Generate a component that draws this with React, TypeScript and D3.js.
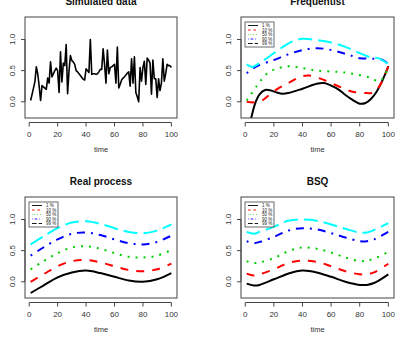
import React from 'react';
import * as d3 from 'd3';

// simulated observations, t = 1..100
const simValues = [
  0.02, 0.12, 0.22, 0.32, 0.56, 0.45, 0.25, 0.02, 0.26, 0.24,
  0.22, 0.20, 0.38, 0.30, 0.64, 0.40, 0.45, 0.50, 0.54, 0.50,
  0.15, 0.80, 0.32, 0.62, 0.58, 0.92, 0.13, 0.50, 0.74, 0.66,
  0.64, 0.60, 0.50, 0.48, 0.45, 0.42, 0.39, 0.36, 0.35, 0.53,
  0.50, 0.47, 1.00, 0.44, 0.45, 0.45, 0.44, 0.45, 0.48, 0.52,
  0.52, 0.85, 0.60, 0.30, 0.83, 0.45, 0.55, 0.56, 0.58, 0.60,
  0.30, 0.88, 0.22, 0.28, 0.35, 0.38, 0.40, 0.43, 0.46, 0.48,
  0.25, 0.69, 0.30, 0.72, 0.15, 0.08, 0.00, 0.55, 0.33, 0.55,
  0.65, 0.28, 0.70, 0.67, 0.62, 0.12, 0.67, 0.37, 0.37, 0.07,
  0.37, 0.18, 0.30, 0.69, 0.33, 0.45, 0.60, 0.58, 0.58, 0.55,
];

const quantileLabels = ['1 %', '10 %', '50 %', '90 %', '99 %'];
const quantileColors = ['#000000', '#FF0000', '#00CD00', '#0000FF', '#00FFFF'];
const legendColors = ['#000000', '#FF0000', '#00CD00', '#0000FF', '#000000'];
const quantileDash = ['none', '8,8', '2,6', '2,6,8,6', '14,6'];

// Frequentist estimates
const freqTimes = [
  [1, 4, 7, 10, 14, 18, 22, 26, 30, 40, 50, 55, 60, 65, 70, 75, 80, 84, 88, 92, 96, 100],
  [1, 10, 20, 30, 40, 45, 55, 65, 75, 85, 90, 95, 100],
  [1, 8, 15, 22, 30, 38, 50, 65, 75, 88, 93, 97, 100],
  [1, 8, 20, 30, 40, 50, 58, 70, 80, 90, 96, 100],
  [1, 5, 10, 17, 25, 33, 40, 50, 60, 70, 80, 88, 93, 97, 100],
];
const freqValues = [
  [-0.6, -0.28, -0.02, 0.12, 0.19, 0.18, 0.15, 0.13, 0.14, 0.21, 0.29, 0.30, 0.26, 0.20, 0.11, 0.03, -0.03, -0.02, 0.05, 0.17, 0.35, 0.57],
  [0.0, 0.0, 0.17, 0.30, 0.41, 0.42, 0.35, 0.25, 0.16, 0.14, 0.15, 0.30, 0.57],
  [0.02, 0.25, 0.45, 0.53, 0.57, 0.55, 0.50, 0.48, 0.45, 0.38, 0.33, 0.40, 0.57],
  [0.46, 0.57, 0.67, 0.76, 0.83, 0.86, 0.84, 0.77, 0.70, 0.69, 0.67, 0.60],
  [0.60, 0.56, 0.62, 0.73, 0.86, 0.97, 1.01, 0.99, 0.95, 0.88, 0.78, 0.71, 0.70, 0.65, 0.60],
];

// true quantiles
const realTimes = [1, 10, 20, 30, 40, 50, 60, 70, 80, 90, 100];
const realValues = [
  [-0.18, -0.06, 0.07, 0.15, 0.18, 0.14, 0.08, 0.02, 0.00, 0.04, 0.14],
  [0.00, 0.12, 0.25, 0.33, 0.35, 0.31, 0.25, 0.19, 0.17, 0.20, 0.29],
  [0.20, 0.33, 0.46, 0.55, 0.57, 0.53, 0.46, 0.40, 0.39, 0.42, 0.51],
  [0.42, 0.55, 0.68, 0.77, 0.79, 0.75, 0.68, 0.62, 0.60, 0.64, 0.74],
  [0.60, 0.73, 0.86, 0.95, 0.97, 0.93, 0.86, 0.80, 0.78, 0.82, 0.92],
];

// BSQ estimates
const bsqTimes = [1, 6, 10, 20, 30, 40, 50, 60, 70, 80, 85, 90, 100];
const bsqValues = [
  [-0.03, -0.06, -0.05, 0.04, 0.13, 0.18, 0.15, 0.08, 0.00, -0.05, -0.05, -0.02, 0.12],
  [0.13, 0.10, 0.12, 0.20, 0.30, 0.34, 0.32, 0.25, 0.17, 0.12, 0.12, 0.15, 0.29],
  [0.33, 0.30, 0.31, 0.38, 0.49, 0.55, 0.53, 0.47, 0.39, 0.33, 0.34, 0.37, 0.48],
  [0.65, 0.62, 0.64, 0.72, 0.82, 0.86, 0.84, 0.78, 0.71, 0.65, 0.65, 0.68, 0.80],
  [0.80, 0.77, 0.80, 0.88, 0.98, 1.00, 0.98, 0.92, 0.85, 0.79, 0.79, 0.83, 0.94],
];

const xTicks = [0, 20, 40, 60, 80, 100];
const yTicks = [0, 0.5, 1.0];

type Series = { t: number[]; v: number[] };

const FONT = '"Liberation Sans", Arial, Helvetica, sans-serif';

const Panel = ({ id, title, x0, x1, y0, y1, series, quantiles }:
  { id: string; title: string; x0: number; x1: number; y0: number; y1: number; series: Series[]; quantiles: boolean }) => {
  const x = d3.scaleLinear().domain([-2.96, 103.96]).range([x0, x1]);
  const y = d3.scaleLinear().domain([-0.26, 1.36]).range([y1, y0]);
  const curve = quantiles ? d3.curveCatmullRom : d3.curveLinear;
  const line = d3.line<[number, number]>().x(d => x(d[0])).y(d => y(d[1])).curve(curve);
  const cx = (x0 + x1) / 2;
  const axY = y1 + 4.5;

  return (
    <g>
      <defs>
        <clipPath id={`clip-${id}`}>
          <rect x={x0} y={y0} width={x1 - x0} height={y1 - y0} />
        </clipPath>
      </defs>
      <text x={cx} y={y0 - 12} textAnchor="middle" fontSize={10} fontWeight="bold" fill="#111">{title}</text>
      <g clipPath={`url(#clip-${id})`}>
        {series.map((s, i) => (
          <path key={i}
            d={line(s.t.map((t, j) => [t, s.v[j]] as [number, number])) || ''}
            fill="none"
            stroke={quantiles ? quantileColors[i] : '#000'}
            strokeWidth={quantiles ? 2 : 1.6}
            strokeDasharray={quantiles ? quantileDash[i] : 'none'}
            strokeLinejoin="round" />
        ))}
      </g>
      <rect x={x0} y={y0} width={x1 - x0} height={y1 - y0} fill="none" stroke="#444" strokeWidth={1} />
      {/* x axis */}
      <line x1={x(xTicks[0])} x2={x(xTicks[xTicks.length - 1])} y1={axY} y2={axY} stroke="#444" />
      {xTicks.map(t => (
        <g key={t}>
          <line x1={x(t)} x2={x(t)} y1={axY} y2={axY + 4} stroke="#444" />
          <text x={x(t)} y={axY + 14} textAnchor="middle" fontSize={8} fill="#333">{t}</text>
        </g>
      ))}
      <text x={cx} y={y1 + 34} textAnchor="middle" fontSize={7.5} fill="#333">time</text>
      {/* y axis */}
      <line x1={x0} x2={x0} y1={y(yTicks[0])} y2={y(yTicks[yTicks.length - 1])} stroke="#444" />
      {yTicks.map(v => (
        <g key={v}>
          <line x1={x0 - 4} x2={x0} y1={y(v)} y2={y(v)} stroke="#444" />
          <text transform={`translate(${x0 - 10},${y(v)}) rotate(-90)`} textAnchor="middle" fontSize={8} fill="#333">{v.toFixed(1)}</text>
        </g>
      ))}
      {quantiles && (
        <g transform={`translate(${x0 + 4},${y0 + 5})`}>
          <rect x={0} y={0} width={29} height={25} fill="#fff" stroke="#444" strokeWidth={0.8} />
          {quantileLabels.map((lab, i) => (
            <g key={lab} transform={`translate(0,${3.5 + i * 4.5})`}>
              <line x1={3} x2={13} y1={0} y2={0} stroke={legendColors[i]} strokeWidth={0.9}
                strokeDasharray={quantileDash[i] === 'none' ? 'none' : quantileDash[i].split(',').map(d => +d / 3).join(',')} />
              <text x={17} y={1.5} fontSize={4.5} fill="#222">{lab}</text>
            </g>
          ))}
        </g>
      )}
    </g>
  );
};

export default function App() {
  const freq = freqTimes.map((t, i) => ({ t, v: freqValues[i] }));
  const real = realValues.map(v => ({ t: realTimes, v }));
  const bsq = bsqValues.map(v => ({ t: bsqTimes, v }));
  const sim = [{ t: simValues.map((_, i) => i + 1), v: simValues }];
  return (
    <svg width={397} height={337} style={{ position: 'absolute', left: 0, top: 0, fontFamily: FONT, background: '#fff' }}>
      <rect width={397} height={337} fill="#fff" />
      <Panel id="sim" title="Simulated data" x0={25} x1={177} y0={17} y1={118} series={sim} quantiles={false} />
      <Panel id="freq" title="Frequentist" x0={241} x1={394} y0={17} y1={118} series={freq} quantiles={true} />
      <Panel id="real" title="Real process" x0={25} x1={177} y0={197} y1={298} series={real} quantiles={true} />
      <Panel id="bsq" title="BSQ" x0={241} x1={394} y0={197} y1={298} series={bsq} quantiles={true} />
    </svg>
  );
}
